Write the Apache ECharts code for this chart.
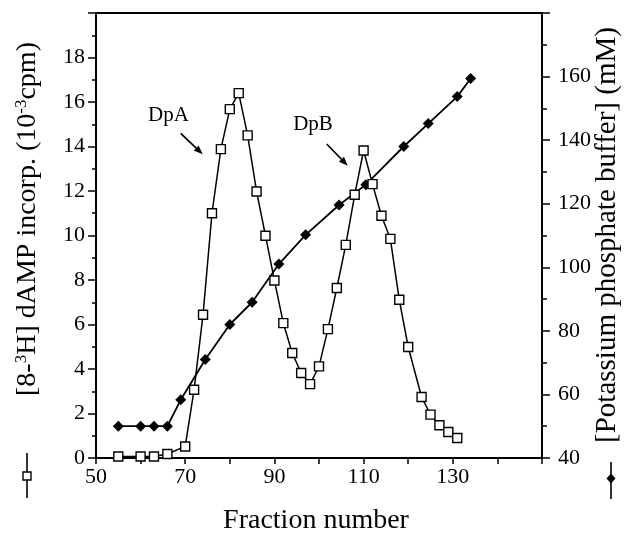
<!DOCTYPE html>
<html>
<head>
<meta charset="utf-8">
<script src="https://cdn.jsdelivr.net/npm/echarts@6/dist/echarts.min.js"></script>
<style>
html,body{margin:0;padding:0;background:#fff;}
#chart{width:624px;height:535px;}
</style>
</head>
<body>
<div id="chart"></div>
<script>
// Fraction numbers and dAMP incorporation (10^-3 cpm), left axis
var dampFractions = [55, 60, 63, 66, 70, 72, 74, 76, 78, 80, 82, 84, 86, 88, 90, 92, 94, 96, 98, 100, 102, 104, 106, 108, 110, 112, 114, 116, 118, 120, 123, 125, 127, 129, 131];
var dampValues    = [0.07, 0.07, 0.07, 0.18, 0.52, 3.07, 6.44, 11.0, 13.88, 15.68, 16.4, 14.5, 11.98, 9.99, 7.98, 6.06, 4.72, 3.82, 3.32, 4.12, 5.79, 7.64, 9.58, 11.83, 13.82, 12.31, 10.89, 9.85, 7.11, 4.99, 2.74, 1.95, 1.47, 1.17, 0.90];

// Potassium phosphate buffer (mM), right axis
var bufferFractions = [55, 60, 63, 66, 69, 74.5, 80, 85, 91, 97, 104.5, 110.5, 119, 124.5, 131, 134];
var bufferValues    = [50, 50, 50, 50, 58.3, 71, 82, 89, 101, 110.2, 119.6, 126, 138, 145.2, 153.7, 159.4];

// Axis tick labels
var xTickLabels = [50, 70, 90, 110, 130];
var leftTickLabels = [0, 2, 4, 6, 8, 10, 12, 14, 16, 18];
var rightTickLabels = [40, 60, 80, 100, 120, 140, 160];

function pairs(xs, ys) { return xs.map(function (x, i) { return [x, ys[i]]; }); }

var FONT = '"Liberation Serif", "Times New Roman", serif';
var chart = echarts.init(document.getElementById('chart'), null, {renderer: 'canvas'});

function arrow(x1, y1, x2, y2) {
  var ang = Math.atan2(y2 - y1, x2 - x1);
  var L = 9, W = 3.5;
  var bx = x2 - L * Math.cos(ang), by = y2 - L * Math.sin(ang);
  var px = -Math.sin(ang), py = Math.cos(ang);
  return [
    {type: 'line', shape: {x1: x1, y1: y1, x2: bx, y2: by}, style: {stroke: '#000', lineWidth: 1.7}, z: 10},
    {type: 'polygon', shape: {points: [[x2, y2], [bx + px * W, by + py * W], [bx - px * W, by - py * W]]}, style: {fill: '#000'}, z: 10}
  ];
}

var graphics = [
  {type: 'text', x: 28, y: 219, rotation: Math.PI / 2, z: 10,
   style: {text: '[8-{sup|3}H] dAMP incorp. (10{sup|-3}cpm)', font: '28px ' + FONT, fill: '#000',
           textAlign: 'center', textVerticalAlign: 'middle',
           rich: {sup: {fontSize: 17, fontFamily: FONT, verticalAlign: 'top', padding: [0, 0, 12, 0]}}}},
  {type: 'text', x: 607, y: 235, rotation: Math.PI / 2, z: 10,
   style: {text: '[Potassium phosphate buffer] (mM)', font: '29px ' + FONT, fill: '#000',
           textAlign: 'center', textVerticalAlign: 'middle'}},
  {type: 'text', x: 316, y: 521, z: 10,
   style: {text: 'Fraction number', font: '28px ' + FONT, fill: '#000', textAlign: 'center', textVerticalAlign: 'middle'}},
  {type: 'text', x: 168.5, y: 115, z: 10,
   style: {text: 'DpA', font: '21px ' + FONT, fill: '#000', textAlign: 'center', textVerticalAlign: 'middle'}},
  {type: 'text', x: 313, y: 124, z: 10,
   style: {text: 'DpB', font: '21px ' + FONT, fill: '#000', textAlign: 'center', textVerticalAlign: 'middle'}},
  // legend keys next to axis titles
  {type: 'line', shape: {x1: 27, y1: 453, x2: 27, y2: 498}, style: {stroke: '#000', lineWidth: 1.6}, z: 10},
  {type: 'rect', shape: {x: 23, y: 472, width: 8, height: 8}, style: {fill: '#fff', stroke: '#000', lineWidth: 1.4}, z: 11},
  {type: 'line', shape: {x1: 611, y1: 462, x2: 611, y2: 499}, style: {stroke: '#000', lineWidth: 1.6}, z: 10},
  {type: 'polygon', shape: {points: [[611, 473.5], [615.5, 478.5], [611, 483.5], [606.5, 478.5]]}, style: {fill: '#000'}, z: 11}
].concat(arrow(180.7, 133.3, 202.7, 154.3)).concat(arrow(326.7, 144, 347.7, 165.7));

var option = {
  animation: false,
  backgroundColor: '#fff',
  grid: {left: 96, right: 82, top: 13, bottom: 77, show: true, borderColor: '#000', borderWidth: 1.8, backgroundColor: 'transparent'},
  xAxis: {
    type: 'value', min: 50, max: 150, interval: 20,
    axisLine: {lineStyle: {color: '#000', width: 1.8}},
    axisTick: {show: true, inside: false, length: 6, lineStyle: {color: '#000', width: 1.5}},
    minorTick: {show: true, splitNumber: 2, length: 6, lineStyle: {color: '#000', width: 1.5}},
    splitLine: {show: false},
    axisLabel: {margin: 8, color: '#000', fontFamily: FONT, fontSize: 22,
      formatter: function (v) { return xTickLabels.indexOf(v) >= 0 ? String(v) : ''; }}
  },
  yAxis: [
    {
      type: 'value', min: 0, max: 20, interval: 2, position: 'left',
      axisLine: {show: true, lineStyle: {color: '#000', width: 1.8}},
      axisTick: {show: true, length: 8, lineStyle: {color: '#000', width: 1.5}},
      minorTick: {show: true, splitNumber: 2, length: 4, lineStyle: {color: '#000', width: 1.5}},
      splitLine: {show: false},
      axisLabel: {margin: 11, color: '#000', fontFamily: FONT, fontSize: 22,
        formatter: function (v) { return leftTickLabels.indexOf(v) >= 0 ? String(v) : ''; }}
    },
    {
      type: 'value', min: 40, max: 180, interval: 20, position: 'right',
      axisLine: {show: true, lineStyle: {color: '#000', width: 1.8}},
      axisTick: {show: true, length: 8, lineStyle: {color: '#000', width: 1.5}},
      minorTick: {show: true, splitNumber: 2, length: 5, lineStyle: {color: '#000', width: 1.5}},
      splitLine: {show: false},
      axisLabel: {margin: 16, color: '#000', fontFamily: FONT, fontSize: 22,
        formatter: function (v) { return rightTickLabels.indexOf(v) >= 0 ? String(v) : ''; }}
    }
  ],
  series: [
    {
      name: 'buffer', type: 'line', xAxisIndex: 0, yAxisIndex: 1, z: 3,
      data: pairs(bufferFractions, bufferValues),
      symbol: 'diamond', symbolSize: [11, 11], showSymbol: true,
      lineStyle: {color: '#000', width: 1.8},
      itemStyle: {color: '#000', borderWidth: 0}
    },
    {
      name: 'dAMP', type: 'line', xAxisIndex: 0, yAxisIndex: 0, z: 4,
      data: pairs(dampFractions, dampValues),
      symbol: 'rect', symbolSize: 9, showSymbol: true,
      lineStyle: {color: '#000', width: 1.5},
      itemStyle: {color: '#fff', borderColor: '#000', borderWidth: 1.4}
    }
  ],
  graphic: graphics
};
chart.setOption(option);
</script>
</body>
</html>
